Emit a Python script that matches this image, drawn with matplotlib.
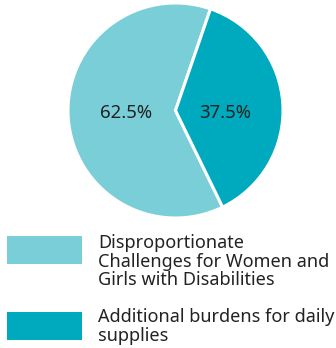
import matplotlib
matplotlib.use("Agg")
import matplotlib.pyplot as plt
from matplotlib.patches import Rectangle

categories = ["Disproportionate\nChallenges for Women and\nGirls with Disabilities",
              "Additional burdens for daily\nsupplies"]
values = [62.5, 37.5]
colors = ["#79CED8", "#00AABE"]

plt.rcParams['font.family'] = ['Noto Sans', 'DejaVu Sans']

W, H = 336, 348
fig = plt.figure(figsize=(W/100, H/100), dpi=100)
ax = fig.add_axes([68/W, (H-218)/H, 215/W, 215/H])
wedges, texts, autotexts = ax.pie(values, colors=colors, startangle=71, counterclock=True,
       autopct=lambda p: f"{p:.1f}%", pctdistance=0.46,
       wedgeprops=dict(edgecolor="white", linewidth=2.2),
       textprops=dict(fontsize=13.3, color="#222222"))
for t in autotexts:
    x, y = t.get_position()
    t.set_position((x, -0.02))
ax.set_xlim(-1, 1); ax.set_ylim(-1, 1)
ax.set_aspect('equal')
ax.axis('off')

rects = [(7, 236), (7, 312)]
text_tops = [234, 308]
for (x, y), t, c, lab in zip(rects, text_tops, colors, categories):
    fig.patches.append(Rectangle((x/W, 1-(y+28)/H), 75/W, 28/H, transform=fig.transFigure,
                                 facecolor=c, edgecolor='none'))
    fig.text(98/W, 1-t/H, lab, fontsize=13.0, color="#222222", va='top', ha='left',
             linespacing=1.05)

fig.savefig("out.png", dpi=100)
